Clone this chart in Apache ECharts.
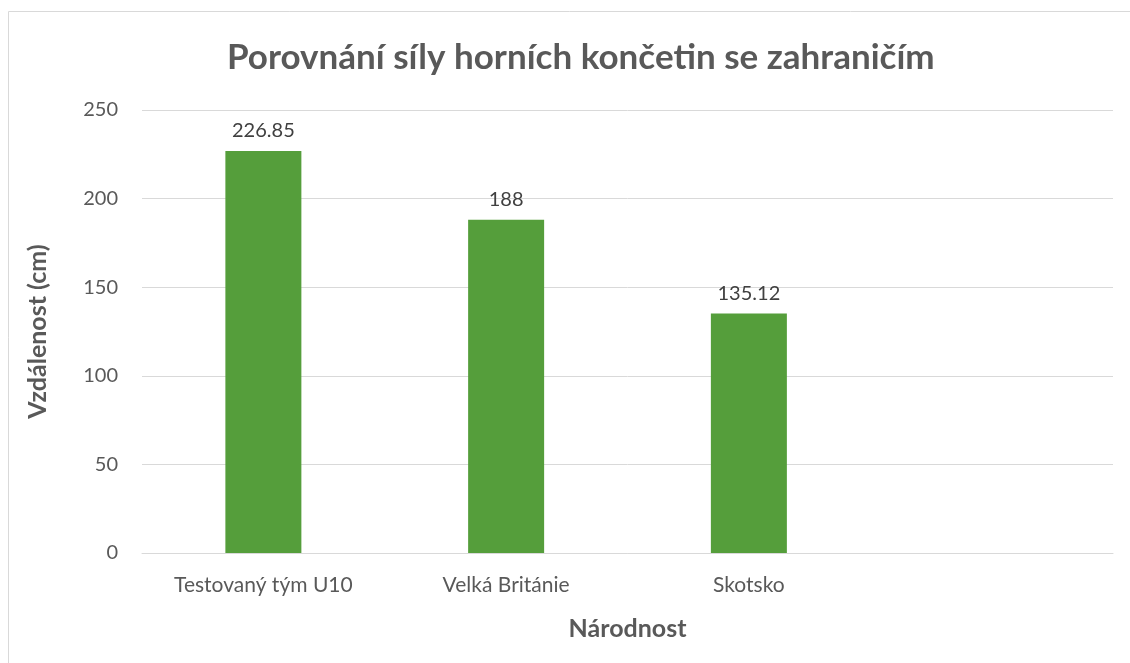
<!DOCTYPE html>
<html>
<head>
<meta charset="utf-8">
<script src="https://cdn.jsdelivr.net/npm/echarts@6/dist/echarts.min.js"></script>
<style>
  html, body { margin: 0; padding: 0; background: #fff; }
  #chart { width: 1130px; height: 663px; }
</style>
</head>
<body>
<div id="chart"></div>
<script>
const categories = ['Testovaný tým U10', 'Velká Británie', 'Skotsko', '']
const values = [226.85, 188, 135.12, null]
const yTicks = { min: 0, max: 250, interval: 50 }

const FONT = 'Lato, "Open Sans", sans-serif'
const chart = echarts.init(document.getElementById('chart'))

chart.setOption({
  animation: false,
  title: {
    text: 'Porovnání síly horních končetin se zahraničím',
    left: 222,
    top: 35,
    textStyle: { fontFamily: FONT, fontSize: 35, fontWeight: 'bold', color: '#595959' },
  },
  graphic: [{
    type: 'rect',
    shape: { x: 8.5, y: 11.5, width: 1300, height: 900 },
    style: { fill: 'none', stroke: '#d9d9d9', lineWidth: 1 },
    silent: true,
  }],
  grid: { left: 142, right: 17, top: 110, bottom: 110, containLabel: false },
  xAxis: {
    type: 'category',
    data: categories,
    name: 'Národnost',
    nameLocation: 'middle',
    nameGap: 63,
    nameTextStyle: { fontFamily: FONT, fontSize: 25, fontWeight: 'bold', color: '#595959' },
    axisLine: { lineStyle: { color: '#d9d9d9', width: 1 } },
    axisTick: { show: false },
    axisLabel: { fontFamily: FONT, fontSize: 21, color: '#595959', margin: 22 },
  },
  yAxis: {
    type: 'value',
    min: yTicks.min,
    max: yTicks.max,
    interval: yTicks.interval,
    name: 'Vzdálenost (cm)',
    nameLocation: 'middle',
    nameGap: 92,
    nameTextStyle: { fontFamily: FONT, fontSize: 25, fontWeight: 'bold', color: '#595959' },
    axisLine: { show: false },
    axisTick: { show: false },
    axisLabel: { fontFamily: FONT, fontSize: 20, color: '#595959', margin: 24 },
    splitLine: { lineStyle: { color: '#d9d9d9', width: 1 } },
  },
  series: [{
    type: 'bar',
    data: values,
    barWidth: 76,
    itemStyle: { color: '#559E3B' },
    label: {
      show: true,
      position: 'top',
      distance: 10,
      fontFamily: FONT,
      fontSize: 20,
      color: '#404040',
    },
  }],
})
</script>
</body>
</html>
